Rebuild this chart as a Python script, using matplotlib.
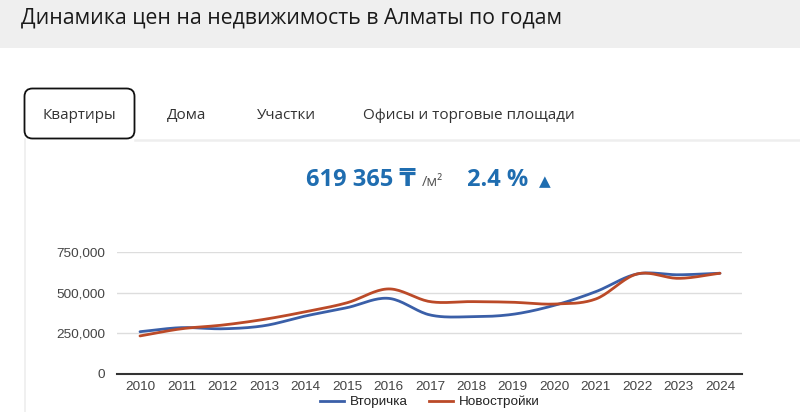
import numpy as np
import matplotlib
matplotlib.use("Agg")
import matplotlib.pyplot as plt
from matplotlib.patches import FancyBboxPatch, Rectangle
from matplotlib.lines import Line2D

# --- data ---
years = [2010, 2011, 2012, 2013, 2014, 2015, 2016, 2017, 2018, 2019, 2020, 2021, 2022, 2023, 2024]
secondary = [260000, 285000, 278000, 297000, 357000, 408000, 465000, 363000, 352000, 367000, 422000, 506000, 615000, 610000, 619365]
new_builds = [234000, 278000, 301000, 336000, 383000, 438000, 523000, 445000, 445000, 441000, 430000, 461000, 615000, 588000, 619365]
y_ticks = [0, 250000, 500000, 750000]
tabs = ["Квартиры", "Дома", "Участки", "Офисы и торговые площади"]
series_names = ["Вторичка", "Новостройки"]

colors = {
    'blue': '#3a5fa8',
    'red': '#bb4a28',
    'accent': '#1f6db0',
    'text': '#333333',
    'tick': '#444444',
    'grid': '#dddddd',
    'band': '#efefef',
}

W, H = 800, 412
ui_font = ['Open Sans', 'DejaVu Sans']


def smooth(x, y, n=20):
    # cubic hermite through the points (for the rounded line look)
    x = np.asarray(x, float)
    y = np.asarray(y, float)
    m = np.zeros_like(y)
    m[1:-1] = (y[2:] - y[:-2]) / (x[2:] - x[:-2])
    m[0] = (y[1] - y[0]) / (x[1] - x[0])
    m[-1] = (y[-1] - y[-2]) / (x[-1] - x[-2])
    xs, ys = [], []
    for i in range(len(x) - 1):
        h = x[i + 1] - x[i]
        t = np.linspace(0, 1, n, endpoint=False)
        h00 = 2 * t**3 - 3 * t**2 + 1
        h10 = t**3 - 2 * t**2 + t
        h01 = -2 * t**3 + 3 * t**2
        h11 = t**3 - t**2
        xs.append(x[i] + t * h)
        ys.append(h00 * y[i] + h10 * h * m[i] + h01 * y[i + 1] + h11 * h * m[i + 1])
    xs.append([x[-1]])
    ys.append([y[-1]])
    return np.concatenate(xs), np.concatenate(ys)


fig = plt.figure(figsize=(W / 100, H / 100), dpi=100, facecolor='white')

# page background in pixel coords
bg = fig.add_axes([0, 0, 1, 1])
bg.set_xlim(0, W)
bg.set_ylim(H, 0)
bg.axis('off')

bg.add_patch(Rectangle((0, 0), W, 48, color=colors['band'], lw=0))
bg.text(21, 18, "Динамика цен на недвижимость в Алматы по годам",
        fontsize=15.3, family=ui_font, color='#1a1a1a', va='center', ha='left')

# panel border
bg.plot([135, W], [139.5, 139.5], color='#eeeeee', lw=1.8)
bg.plot([25, 25], [139, H], color='#eeeeee', lw=1.2)

# tabs
bg.add_patch(FancyBboxPatch((24.5, 88.5), 110, 50, boxstyle="round,pad=0,rounding_size=8",
                            fc='white', ec='#111111', lw=1.3))
tab_x = [79.5, 187, 286, 469]
for label, tx in zip(tabs, tab_x):
    bg.text(tx, 115, label, fontsize=11, family=ui_font, color=colors['text'],
            ha='center', va='center')

# headline figures
bg.text(306, 180, "619 365 ₸", fontsize=17, family=ui_font, weight='bold',
        color=colors['accent'], ha='left', va='center')
bg.text(422, 182, "/м²", fontsize=10.5, family=ui_font, color='#555555', ha='left', va='center')
bg.text(467, 180, "2.4 %", fontsize=17, family=ui_font, weight='bold',
        color=colors['accent'], ha='left', va='center')
bg.text(545, 182, "▲", fontsize=11, family='DejaVu Sans', color=colors['accent'],
        ha='center', va='center')

# chart
left, right, top, bottom = 117, 742, 252, 374
ax = fig.add_axes([left / W, 1 - bottom / H, (right - left) / W, (bottom - top) / H])
ax.set_facecolor('none')
per_year = (720 - 140) / 14
ax.set_xlim(2010 - (140 - left) / per_year, 2024 + (right - 720) / per_year)
ax.set_ylim(0, 750000)

for yt in y_ticks[1:]:
    ax.axhline(yt, color=colors['grid'], lw=1, zorder=0)

sx, sy = smooth(years, secondary)
nx, ny = smooth(years, new_builds)
ax.plot(sx, sy, color=colors['blue'], lw=2, zorder=3, solid_capstyle='round')
ax.plot(nx, ny, color=colors['red'], lw=2, zorder=3, solid_capstyle='round')

ax.set_xticks(years)
ax.set_xticklabels([str(y) for y in years])
ax.set_yticks(y_ticks)
ax.set_yticklabels([f"{v:,}" for v in y_ticks])
ax.tick_params(length=0, labelsize=9.7, labelcolor=colors['tick'])
for lab in ax.get_xticklabels() + ax.get_yticklabels():
    lab.set_family('Liberation Sans')
ax.tick_params(axis='x', pad=5)
ax.tick_params(axis='y', pad=8.5)
for name, sp in ax.spines.items():
    sp.set_visible(name == 'bottom')
ax.spines['bottom'].set_color('#333333')
ax.spines['bottom'].set_linewidth(1.5)

# legend
handles = [Line2D([], [], color=colors['blue'], lw=2),
           Line2D([], [], color=colors['red'], lw=2)]
fig.legend(handles, series_names, loc='center', bbox_to_anchor=(429.5 / W, 1 - 402 / H),
           ncol=2, frameon=False, handlelength=1.8, handletextpad=0.4, columnspacing=1.6,
           prop={'family': 'Liberation Sans', 'size': 9.7}, labelcolor='#222222')

fig.savefig("out.png", dpi=100, facecolor='white')
